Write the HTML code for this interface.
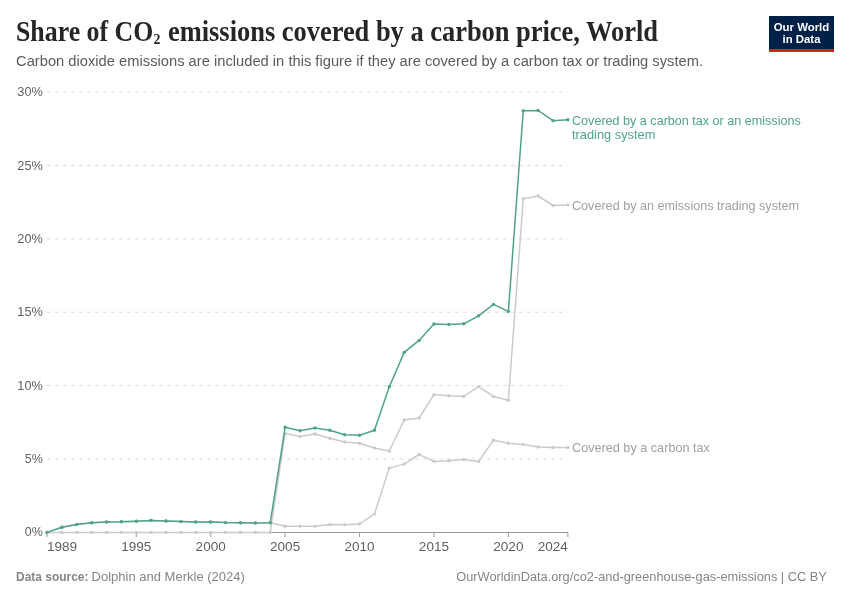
<!DOCTYPE html>
<html><head><meta charset="utf-8"><title>Share of CO2 emissions covered by a carbon price, World</title>
<style>
html,body{margin:0;padding:0;background:#fff;}
body{width:850px;height:600px;overflow:hidden;position:relative;}
svg{position:absolute;left:0;top:0;will-change:transform;}
.t{font-family:"Liberation Serif",serif;font-weight:bold;font-size:26.4px;fill:#262626;}
.st{font-family:"Liberation Sans",sans-serif;font-size:14.7px;fill:#5b5b5b;}
.ax{font-family:"Liberation Sans",sans-serif;font-size:13.3px;fill:#5f5f5f;}
.lbl{font-family:"Liberation Sans",sans-serif;font-size:12.8px;}
.ft{font-family:"Liberation Sans",sans-serif;font-size:12.8px;fill:#858585;}
.logo{font-family:"Liberation Sans",sans-serif;font-weight:bold;font-size:11.4px;fill:#fff;}
</style></head>
<body>
<svg width="850" height="600" viewBox="0 0 850 600">
<g transform="translate(0 40.5) scale(1 1.08)" class="t"><text x="16" y="0" textLength="137.3" lengthAdjust="spacingAndGlyphs">Share of CO</text><text x="153.6" y="3.2" font-size="13.8">2</text><text x="168" y="0" textLength="490.0" lengthAdjust="spacingAndGlyphs">emissions covered by a carbon price, World</text></g>
<text x="16" y="66.4" class="st" textLength="687.08" lengthAdjust="spacingAndGlyphs">Carbon dioxide emissions are included in this figure if they are covered by a carbon tax or trading system.</text>
<rect x="769" y="16" width="65" height="36" fill="#002147"/>
<rect x="769" y="49" width="65" height="3" fill="#ce261e"/>
<text x="801.5" y="30.7" text-anchor="middle" class="logo">Our World</text>
<text x="801.5" y="42.8" text-anchor="middle" class="logo">in Data</text>
<line x1="47" y1="92.0" x2="567.9" y2="92.0" stroke="#dddddd" stroke-width="1" stroke-dasharray="4,4"/>
<line x1="47" y1="165.4" x2="567.9" y2="165.4" stroke="#dddddd" stroke-width="1" stroke-dasharray="4,4"/>
<line x1="47" y1="238.8" x2="567.9" y2="238.8" stroke="#dddddd" stroke-width="1" stroke-dasharray="4,4"/>
<line x1="47" y1="312.2" x2="567.9" y2="312.2" stroke="#dddddd" stroke-width="1" stroke-dasharray="4,4"/>
<line x1="47" y1="385.6" x2="567.9" y2="385.6" stroke="#dddddd" stroke-width="1" stroke-dasharray="4,4"/>
<line x1="47" y1="459.0" x2="567.9" y2="459.0" stroke="#dddddd" stroke-width="1" stroke-dasharray="4,4"/>
<text x="17.30" y="96.2" class="ax" textLength="25.50" lengthAdjust="spacingAndGlyphs">30%</text>
<text x="17.30" y="169.6" class="ax" textLength="25.50" lengthAdjust="spacingAndGlyphs">25%</text>
<text x="17.30" y="243.0" class="ax" textLength="25.50" lengthAdjust="spacingAndGlyphs">20%</text>
<text x="17.30" y="316.4" class="ax" textLength="25.50" lengthAdjust="spacingAndGlyphs">15%</text>
<text x="17.30" y="389.8" class="ax" textLength="25.50" lengthAdjust="spacingAndGlyphs">10%</text>
<text x="24.84" y="463.2" class="ax" textLength="17.96" lengthAdjust="spacingAndGlyphs">5%</text>
<text x="24.84" y="536.4" class="ax" textLength="17.96" lengthAdjust="spacingAndGlyphs">0%</text>
<line x1="47" y1="532.5" x2="568" y2="532.5" stroke="#999" stroke-width="1"/>
<line x1="47.00" y1="532.5" x2="47.00" y2="537" stroke="#999" stroke-width="1"/>
<text x="47.00" y="550.5" class="ax" textLength="30.16" lengthAdjust="spacingAndGlyphs">1989</text>
<line x1="136.30" y1="532.5" x2="136.30" y2="537" stroke="#999" stroke-width="1"/>
<text x="121.22" y="550.5" class="ax" textLength="30.16" lengthAdjust="spacingAndGlyphs">1995</text>
<line x1="210.71" y1="532.5" x2="210.71" y2="537" stroke="#999" stroke-width="1"/>
<text x="195.63" y="550.5" class="ax" textLength="30.16" lengthAdjust="spacingAndGlyphs">2000</text>
<line x1="285.13" y1="532.5" x2="285.13" y2="537" stroke="#999" stroke-width="1"/>
<text x="270.05" y="550.5" class="ax" textLength="30.16" lengthAdjust="spacingAndGlyphs">2005</text>
<line x1="359.54" y1="532.5" x2="359.54" y2="537" stroke="#999" stroke-width="1"/>
<text x="344.46" y="550.5" class="ax" textLength="30.16" lengthAdjust="spacingAndGlyphs">2010</text>
<line x1="433.95" y1="532.5" x2="433.95" y2="537" stroke="#999" stroke-width="1"/>
<text x="418.87" y="550.5" class="ax" textLength="30.16" lengthAdjust="spacingAndGlyphs">2015</text>
<line x1="508.37" y1="532.5" x2="508.37" y2="537" stroke="#999" stroke-width="1"/>
<text x="493.29" y="550.5" class="ax" textLength="30.16" lengthAdjust="spacingAndGlyphs">2020</text>
<line x1="567.90" y1="532.5" x2="567.90" y2="537" stroke="#999" stroke-width="1"/>
<text x="537.74" y="550.5" class="ax" textLength="30.16" lengthAdjust="spacingAndGlyphs">2024</text>
<polyline points="47.00,532.40 61.88,532.40 76.77,532.40 91.65,532.40 106.53,532.40 121.41,532.40 136.30,532.40 151.18,532.40 166.06,532.40 180.95,532.40 195.83,532.40 210.71,532.40 225.59,532.40 240.48,532.40 255.36,532.40 270.24,532.40 285.13,433.60 300.01,436.60 314.89,434.00 329.77,438.20 344.66,442.00 359.54,443.20 374.42,448.00 389.31,451.00 404.19,420.00 419.07,418.00 433.95,394.60 448.84,395.80 463.72,396.40 478.60,386.60 493.49,396.40 508.37,400.20 523.25,198.80 538.13,196.00 553.02,205.50 567.90,204.90" fill="none" stroke="#cbcbcb" stroke-width="1.5" stroke-linejoin="round"/>
<g fill="#cbcbcb"><circle cx="47.00" cy="532.40" r="1.7"/><circle cx="61.88" cy="532.40" r="1.7"/><circle cx="76.77" cy="532.40" r="1.7"/><circle cx="91.65" cy="532.40" r="1.7"/><circle cx="106.53" cy="532.40" r="1.7"/><circle cx="121.41" cy="532.40" r="1.7"/><circle cx="136.30" cy="532.40" r="1.7"/><circle cx="151.18" cy="532.40" r="1.7"/><circle cx="166.06" cy="532.40" r="1.7"/><circle cx="180.95" cy="532.40" r="1.7"/><circle cx="195.83" cy="532.40" r="1.7"/><circle cx="210.71" cy="532.40" r="1.7"/><circle cx="225.59" cy="532.40" r="1.7"/><circle cx="240.48" cy="532.40" r="1.7"/><circle cx="255.36" cy="532.40" r="1.7"/><circle cx="270.24" cy="532.40" r="1.7"/><circle cx="285.13" cy="433.60" r="1.7"/><circle cx="300.01" cy="436.60" r="1.7"/><circle cx="314.89" cy="434.00" r="1.7"/><circle cx="329.77" cy="438.20" r="1.7"/><circle cx="344.66" cy="442.00" r="1.7"/><circle cx="359.54" cy="443.20" r="1.7"/><circle cx="374.42" cy="448.00" r="1.7"/><circle cx="389.31" cy="451.00" r="1.7"/><circle cx="404.19" cy="420.00" r="1.7"/><circle cx="419.07" cy="418.00" r="1.7"/><circle cx="433.95" cy="394.60" r="1.7"/><circle cx="448.84" cy="395.80" r="1.7"/><circle cx="463.72" cy="396.40" r="1.7"/><circle cx="478.60" cy="386.60" r="1.7"/><circle cx="493.49" cy="396.40" r="1.7"/><circle cx="508.37" cy="400.20" r="1.7"/><circle cx="523.25" cy="198.80" r="1.7"/><circle cx="538.13" cy="196.00" r="1.7"/><circle cx="553.02" cy="205.50" r="1.7"/><circle cx="567.90" cy="204.90" r="1.7"/></g>
<polyline points="47.00,532.40 61.88,527.20 76.77,524.40 91.65,522.80 106.53,522.00 121.41,521.80 136.30,521.20 151.18,520.40 166.06,521.00 180.95,521.60 195.83,522.00 210.71,522.00 225.59,522.60 240.48,522.80 255.36,523.00 270.24,522.80 285.13,526.20 300.01,526.20 314.89,526.20 329.77,524.60 344.66,524.80 359.54,524.00 374.42,513.90 389.31,468.10 404.19,464.10 419.07,454.50 433.95,461.40 448.84,460.70 463.72,459.40 478.60,461.40 493.49,440.30 508.37,443.20 523.25,444.40 538.13,447.00 553.02,447.40 567.90,447.40" fill="none" stroke="#cbcbcb" stroke-width="1.5" stroke-linejoin="round"/>
<g fill="#cbcbcb"><circle cx="47.00" cy="532.40" r="1.7"/><circle cx="61.88" cy="527.20" r="1.7"/><circle cx="76.77" cy="524.40" r="1.7"/><circle cx="91.65" cy="522.80" r="1.7"/><circle cx="106.53" cy="522.00" r="1.7"/><circle cx="121.41" cy="521.80" r="1.7"/><circle cx="136.30" cy="521.20" r="1.7"/><circle cx="151.18" cy="520.40" r="1.7"/><circle cx="166.06" cy="521.00" r="1.7"/><circle cx="180.95" cy="521.60" r="1.7"/><circle cx="195.83" cy="522.00" r="1.7"/><circle cx="210.71" cy="522.00" r="1.7"/><circle cx="225.59" cy="522.60" r="1.7"/><circle cx="240.48" cy="522.80" r="1.7"/><circle cx="255.36" cy="523.00" r="1.7"/><circle cx="270.24" cy="522.80" r="1.7"/><circle cx="285.13" cy="526.20" r="1.7"/><circle cx="300.01" cy="526.20" r="1.7"/><circle cx="314.89" cy="526.20" r="1.7"/><circle cx="329.77" cy="524.60" r="1.7"/><circle cx="344.66" cy="524.80" r="1.7"/><circle cx="359.54" cy="524.00" r="1.7"/><circle cx="374.42" cy="513.90" r="1.7"/><circle cx="389.31" cy="468.10" r="1.7"/><circle cx="404.19" cy="464.10" r="1.7"/><circle cx="419.07" cy="454.50" r="1.7"/><circle cx="433.95" cy="461.40" r="1.7"/><circle cx="448.84" cy="460.70" r="1.7"/><circle cx="463.72" cy="459.40" r="1.7"/><circle cx="478.60" cy="461.40" r="1.7"/><circle cx="493.49" cy="440.30" r="1.7"/><circle cx="508.37" cy="443.20" r="1.7"/><circle cx="523.25" cy="444.40" r="1.7"/><circle cx="538.13" cy="447.00" r="1.7"/><circle cx="553.02" cy="447.40" r="1.7"/><circle cx="567.90" cy="447.40" r="1.7"/></g>
<polyline points="47.00,532.40 61.88,527.20 76.77,524.40 91.65,522.80 106.53,522.00 121.41,521.80 136.30,521.20 151.18,520.40 166.06,521.00 180.95,521.60 195.83,522.00 210.71,522.00 225.59,522.60 240.48,522.80 255.36,523.00 270.24,522.80 285.13,427.20 300.01,430.80 314.89,428.00 329.77,430.20 344.66,434.80 359.54,435.20 374.42,430.20 389.31,386.80 404.19,352.40 419.07,340.40 433.95,324.00 448.84,324.40 463.72,323.80 478.60,315.80 493.49,304.40 508.37,311.40 523.25,110.70 538.13,110.50 553.02,120.70 567.90,119.70" fill="none" stroke="#4fa582" stroke-width="1.5" stroke-linejoin="round"/>
<g fill="#4fa582"><circle cx="47.00" cy="532.40" r="1.7"/><circle cx="61.88" cy="527.20" r="1.7"/><circle cx="76.77" cy="524.40" r="1.7"/><circle cx="91.65" cy="522.80" r="1.7"/><circle cx="106.53" cy="522.00" r="1.7"/><circle cx="121.41" cy="521.80" r="1.7"/><circle cx="136.30" cy="521.20" r="1.7"/><circle cx="151.18" cy="520.40" r="1.7"/><circle cx="166.06" cy="521.00" r="1.7"/><circle cx="180.95" cy="521.60" r="1.7"/><circle cx="195.83" cy="522.00" r="1.7"/><circle cx="210.71" cy="522.00" r="1.7"/><circle cx="225.59" cy="522.60" r="1.7"/><circle cx="240.48" cy="522.80" r="1.7"/><circle cx="255.36" cy="523.00" r="1.7"/><circle cx="270.24" cy="522.80" r="1.7"/><circle cx="285.13" cy="427.20" r="1.7"/><circle cx="300.01" cy="430.80" r="1.7"/><circle cx="314.89" cy="428.00" r="1.7"/><circle cx="329.77" cy="430.20" r="1.7"/><circle cx="344.66" cy="434.80" r="1.7"/><circle cx="359.54" cy="435.20" r="1.7"/><circle cx="374.42" cy="430.20" r="1.7"/><circle cx="389.31" cy="386.80" r="1.7"/><circle cx="404.19" cy="352.40" r="1.7"/><circle cx="419.07" cy="340.40" r="1.7"/><circle cx="433.95" cy="324.00" r="1.7"/><circle cx="448.84" cy="324.40" r="1.7"/><circle cx="463.72" cy="323.80" r="1.7"/><circle cx="478.60" cy="315.80" r="1.7"/><circle cx="493.49" cy="304.40" r="1.7"/><circle cx="508.37" cy="311.40" r="1.7"/><circle cx="523.25" cy="110.70" r="1.7"/><circle cx="538.13" cy="110.50" r="1.7"/><circle cx="553.02" cy="120.70" r="1.7"/><circle cx="567.90" cy="119.70" r="1.7"/></g>
<text x="572.00" y="125" class="lbl" textLength="228.75" lengthAdjust="spacingAndGlyphs" fill="#4fa582">Covered by a carbon tax or an emissions</text>
<text x="572.00" y="138.5" class="lbl" textLength="83.40" lengthAdjust="spacingAndGlyphs" fill="#4fa582">trading system</text>
<text x="572.00" y="209.5" class="lbl" textLength="226.97" lengthAdjust="spacingAndGlyphs" fill="#a1a1a1">Covered by an emissions trading system</text>
<text x="572.00" y="452.3" class="lbl" textLength="137.91" lengthAdjust="spacingAndGlyphs" fill="#a1a1a1">Covered by a carbon tax</text>
<text x="16.00" y="580.5" class="ft" textLength="72.44" lengthAdjust="spacingAndGlyphs" font-weight="bold">Data source:</text>
<text x="91.60" y="580.5" class="ft" textLength="153.23" lengthAdjust="spacingAndGlyphs">Dolphin and Merkle (2024)</text>
<text x="456.25" y="580.5" class="ft" textLength="370.55" lengthAdjust="spacingAndGlyphs">OurWorldinData.org/co2-and-greenhouse-gas-emissions | CC BY</text>
</svg>
</body></html>
